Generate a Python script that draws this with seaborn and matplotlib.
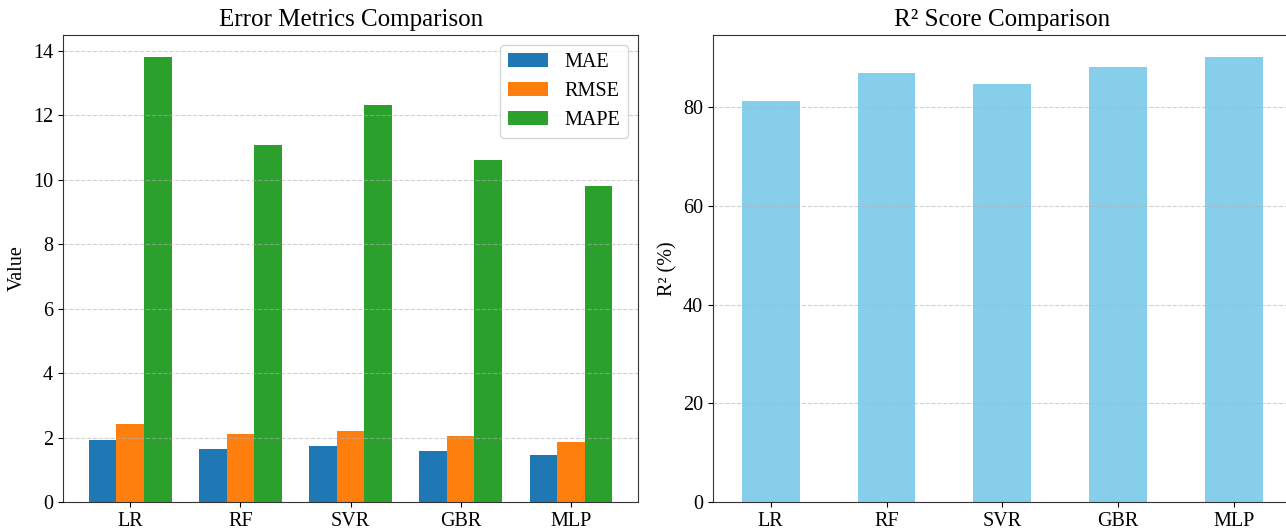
import pandas as pd
import matplotlib.pyplot as plt
import seaborn as sns

models = ["LR", "RF", "SVR", "GBR", "MLP"]
mae = [1.92, 1.65, 1.75, 1.59, 1.45]
rmse = [2.42, 2.10, 2.21, 2.04, 1.86]
mape = [13.8, 11.07, 12.31, 10.6, 9.8]
r2 = [81.3, 86.9, 84.7, 88.1, 90.2]

plt.rcParams["font.family"] = ["Liberation Serif", "DejaVu Serif"]
plt.rcParams["font.size"] = 14.5

errors = pd.DataFrame({"Model": models, "MAE": mae, "RMSE": rmse, "MAPE": mape})
errors_long = errors.melt(id_vars="Model", var_name="Metric", value_name="Value")
r2_df = pd.DataFrame({"Model": models, "R2": r2})

fig = plt.figure(figsize=(12.86, 5.30), dpi=100)
ax1 = fig.add_axes([0.0488, 0.0528, 0.4476, 0.8817])
ax2 = fig.add_axes([0.5542, 0.0528, 0.4505, 0.8817])

# 1. error metrics, grouped bars
sns.barplot(data=errors_long, x="Model", y="Value", hue="Metric", ax=ax1,
            palette=["#1f77b4", "#ff7f0e", "#2ca02c"], width=0.75,
            saturation=1, errorbar=None)
ax1.set_xlim(-0.6125, 4.6125)
ax1.set_title("Error Metrics Comparison", fontsize=18)
ax1.set_xlabel("")
ax1.set_ylabel("Value")
ax1.grid(axis="y", linestyle="--", alpha=0.6)
ax1.legend(title=None, loc="upper right")

# 2. R2 scores
sns.barplot(data=r2_df, x="Model", y="R2", ax=ax2, color="skyblue",
            width=0.5, saturation=1, errorbar=None)
ax2.set_title("R² Score Comparison", fontsize=18)
ax2.set_xlabel("")
ax2.set_ylabel("R² (%)")
ax2.grid(axis="y", linestyle="--", alpha=0.6)

for ax in (ax1, ax2):
    ax.set_axisbelow(False)
    for spine in ax.spines.values():
        spine.set_visible(True)
        spine.set_color("#333333")

fig.savefig("out.png", dpi=100)
plt.close(fig)
